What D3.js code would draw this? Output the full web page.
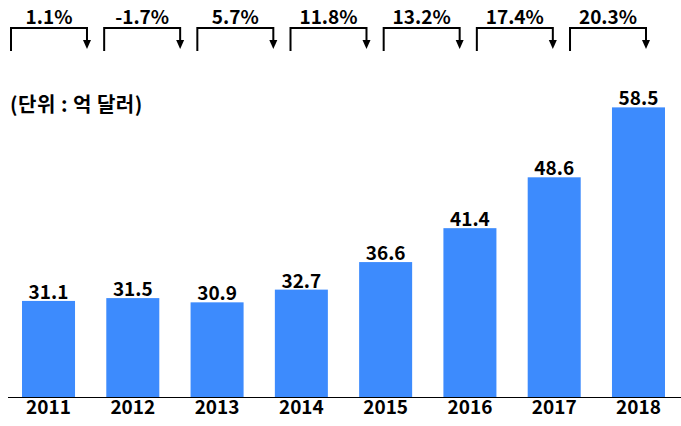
<!DOCTYPE html>
<html>
<head>
<meta charset="utf-8">
<script src="https://cdn.jsdelivr.net/npm/d3@7"></script>
<style>
  body { margin: 0; background: #fff; }
  text { font-family: "Noto Sans CJK KR", "Noto Sans", sans-serif; font-weight: bold; fill: #000; }
</style>
</head>
<body>
<div id="chart"></div>
<script>
const years = ["2011", "2012", "2013", "2014", "2015", "2016", "2017", "2018"];
const sales = [31.1, 31.5, 30.9, 32.7, 36.6, 41.4, 48.6, 58.5];
const growth = ["1.1%", "-1.7%", "5.7%", "11.8%", "13.2%", "17.4%", "20.3%"];
const unitLabel = "(단위 : 억 달러)";

const width = 681, height = 426;
const baseline = 397;

const svg = d3.select("#chart")
  .append("svg")
  .attr("width", width)
  .attr("height", height);

const x = d3.scaleBand()
  .domain(years)
  .range([6, 681])
  .paddingInner(0.371)
  .paddingOuter(0.19);

const y = d3.scaleLinear()
  .domain([17.5, 73.7])
  .range([baseline, 0]);

// bars
svg.selectAll("rect.bar")
  .data(years)
  .join("rect")
  .attr("class", "bar")
  .attr("fill", "#3d8bfd")
  .attr("x", d => x(d))
  .attr("y", (d, i) => y(sales[i]))
  .attr("width", x.bandwidth())
  .attr("height", (d, i) => baseline - y(sales[i]));

// value labels
svg.selectAll("text.val")
  .data(years)
  .join("text")
  .attr("class", "val")
  .attr("x", d => x(d) + x.bandwidth() / 2)
  .attr("y", (d, i) => y(sales[i]) - 2)
  .attr("text-anchor", "middle")
  .style("font-size", "19px")
  .text((d, i) => sales[i].toFixed(1));

// x axis
const xAxis = d3.axisBottom(x).tickSize(0).tickPadding(3);
const gx = svg.append("g")
  .attr("transform", `translate(0, ${baseline})`)
  .call(xAxis);
gx.select(".domain").remove();
gx.selectAll("text")
  .style("font-size", "19px")
  .style("font-family", "\"Noto Sans CJK KR\", \"Noto Sans\", sans-serif")
  .style("font-weight", "bold")
  .attr("fill", "#000");
svg.append("line")
  .attr("x1", 8).attr("x2", 681)
  .attr("y1", baseline + 0.5).attr("y2", baseline + 0.5)
  .attr("stroke", "#000")
  .attr("stroke-width", 1.2);

// unit label
svg.append("text")
  .attr("x", 10)
  .attr("y", 112)
  .style("font-size", "20px")
  .style("letter-spacing", "0.5px")
  .text(unitLabel);

// growth brackets
const gx2 = d3.scaleBand()
  .domain(growth.map((d, i) => i))
  .range([10, 647])
  .paddingInner(0.163)
  .paddingOuter(0);

const bw = gx2.bandwidth();

const br = svg.selectAll("g.br")
  .data(growth)
  .join("g")
  .attr("class", "br")
  .attr("transform", (d, i) => `translate(${gx2(i)}, 0)`);

br.append("path")
  .attr("d", `M1,51 V28 H${bw - 1} V41`)
  .attr("fill", "none")
  .attr("stroke", "#000")
  .attr("stroke-width", 2);

br.append("path")
  .attr("d", `M${bw - 5},40 H${bw + 3} L${bw - 1},49 Z`)
  .attr("fill", "#000");

br.append("text")
  .attr("x", bw / 2)
  .attr("y", 24)
  .attr("text-anchor", "middle")
  .style("font-size", "19px")
  .text(d => d);
</script>
</body>
</html>
